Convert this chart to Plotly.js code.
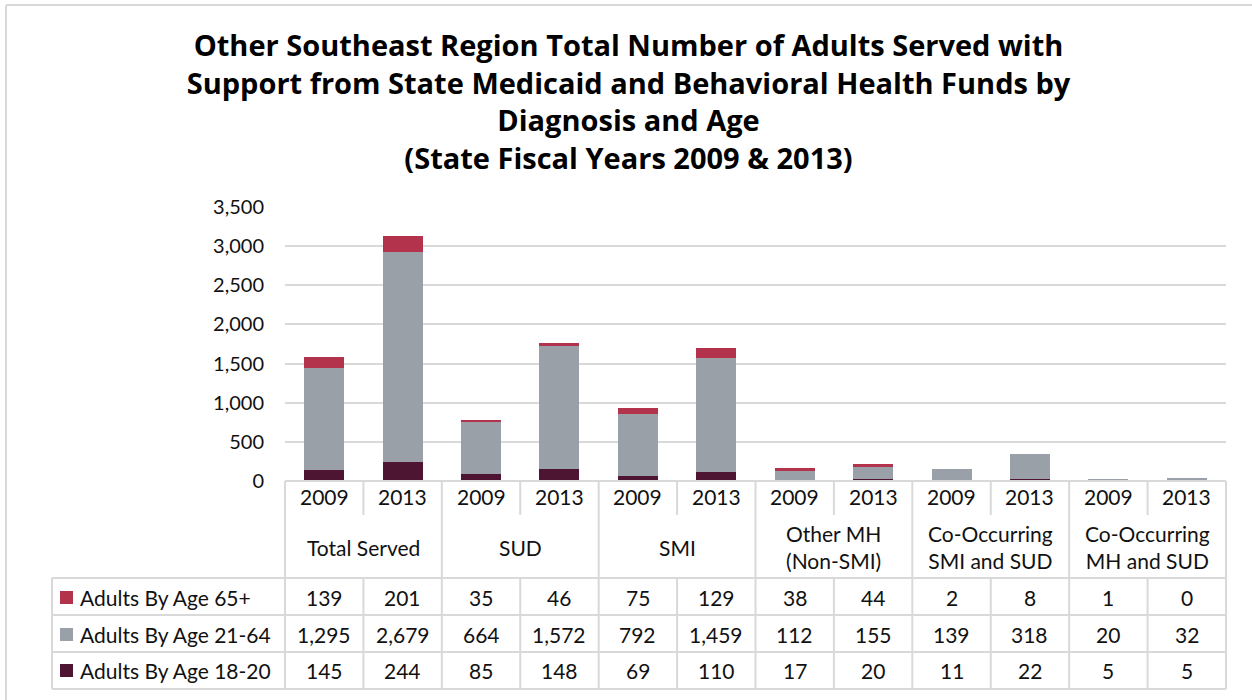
<!DOCTYPE html>
<html>
<head>
<meta charset="utf-8">
<script src="https://cdn.plot.ly/plotly-3.0.1.min.js"></script>
<style>html,body{margin:0;padding:0;background:#fff;}#chart{width:1252px;height:700px;}</style>
</head>
<body>
<div id="chart"></div>
<script>
// ---- data ----
const years = ["2009","2013","2009","2013","2009","2013","2009","2013","2009","2013","2009","2013"];
const groups = ["Total Served","SUD","SMI","Other MH<br>(Non-SMI)","Co-Occurring<br>SMI and SUD","Co-Occurring<br>MH and SUD"];
const seriesNames = ["Adults By Age 65+","Adults By Age 21-64","Adults By Age 18-20"];
const age65 = [139,201,35,46,75,129,38,44,2,8,1,0];
const age21_64 = [1295,2679,664,1572,792,1459,112,155,139,318,20,32];
const age18_20 = [145,244,85,148,69,110,17,20,11,22,5,5];
const colors = {a65:"#b3334c", a21:"#9aa0a8", a18:"#4e1533"};

// ---- geometry helpers (pixel -> paper) ----
const W=1252,H=700, L=285, R=26, T=207, B=219;
const pw=W-L-R, ph=H-T-B;
const px=x=>(x-L)/pw;
const py=y=>(H-B-y)/ph;
const n=years.length;
const idx=years.map((_,i)=>i);

const traces=[
 {type:"bar",x:idx,y:age18_20,name:seriesNames[2],marker:{color:colors.a18},width:0.51,hoverinfo:"y+name"},
 {type:"bar",x:idx,y:age21_64,name:seriesNames[1],marker:{color:colors.a21},width:0.51,hoverinfo:"y+name"},
 {type:"bar",x:idx,y:age65,name:seriesNames[0],marker:{color:colors.a65},width:0.51,hoverinfo:"y+name"}
];

const lc="#d9d9d9", lw=2;
const shapes=[];
function hline(y,x0,x1){shapes.push({type:"line",xref:"paper",yref:"paper",x0:x0,x1:x1,y0:py(y),y1:py(y),line:{color:lc,width:lw}});}
function vline(x,y0,y1){shapes.push({type:"line",xref:"paper",yref:"paper",x0:x,x1:x,y0:py(y0),y1:py(y1),line:{color:lc,width:lw}});}
// outer chart border (left/top)
shapes.push({type:"line",xref:"paper",yref:"paper",x0:px(6),x1:px(6),y0:py(5),y1:py(700),line:{color:lc,width:2}});
shapes.push({type:"line",xref:"paper",yref:"paper",x0:px(6),x1:px(1252),y0:py(5),y1:py(5),line:{color:lc,width:2}});
// table
const rowLines=[578,615,652,689];
hline(481,0,1);
rowLines.forEach(y=>hline(y,px(52),1));
for(let i=0;i<=n;i++){
  const x=i/n;
  if(i%2===0){vline(x,481,689);}
  else{vline(x,481,515);vline(x,578,689);}
}
vline(px(52),578,689);
// legend keys
const rowY=[597,634,670];
const keyColors=[colors.a65,colors.a21,colors.a18];
rowY.forEach((y,k)=>{
  shapes.push({type:"rect",xref:"paper",yref:"paper",x0:px(60),x1:px(73),y0:py(y+7),y1:py(y-6),fillcolor:keyColors[k],line:{width:0}});
});

const font="Lato, 'Open Sans', sans-serif";
const txt={family:font,size:21,color:"#111"};
const ann=[];
idx.forEach(i=>{
  ann.push({xref:"x",yref:"paper",x:i,y:py(496),text:years[i],showarrow:false,font:txt,xanchor:"center",yanchor:"middle"});
});
groups.forEach((g,j)=>{
  ann.push({xref:"x",yref:"paper",x:2*j+0.5,y:py(547),text:g,showarrow:false,font:txt,xanchor:"center",yanchor:"middle"});
});
const rows=[age65,age21_64,age18_20];
const fmt=v=>v.toLocaleString("en-US");
rows.forEach((arr,k)=>{
  ann.push({xref:"paper",yref:"paper",x:px(78),y:py(rowY[k]),text:seriesNames[k],showarrow:false,font:txt,xanchor:"left",yanchor:"middle"});
  arr.forEach((v,i)=>{
    ann.push({xref:"x",yref:"paper",x:i,y:py(rowY[k]),text:fmt(v),showarrow:false,font:txt,xanchor:"center",yanchor:"middle"});
  });
});

const layout={
  width:W,height:H,
  margin:{l:L,r:R,t:T,b:B},
  paper_bgcolor:"#fff",plot_bgcolor:"#fff",
  showlegend:false,
  barmode:"stack",
  title:{text:"<b>Other Southeast Region Total Number of Adults Served with<br>Support from State Medicaid and Behavioral Health Funds by<br>Diagnosis and Age<br>(State Fiscal Years 2009 &amp; 2013)</b>",
    font:{family:"'Open Sans', Lato, sans-serif",size:29,color:"#000"},x:0.502,xref:"container",xanchor:"center",y:0.92,yref:"container",yanchor:"top"},
  xaxis:{range:[-0.5,n-0.5],showticklabels:false,showgrid:false,zeroline:false,showline:false,ticks:"",fixedrange:true},
  yaxis:{range:[0,3500],dtick:500,tickformat:",",showgrid:true,gridcolor:lc,gridwidth:2,zeroline:false,showline:false,ticks:"",
    ticklabelstandoff:20,tickfont:{family:font,size:20,color:"#111"},fixedrange:true},
  shapes:shapes,
  annotations:ann
};
Plotly.newPlot("chart",traces,layout,{displayModeBar:false,staticPlot:true});
</script>
</body>
</html>
